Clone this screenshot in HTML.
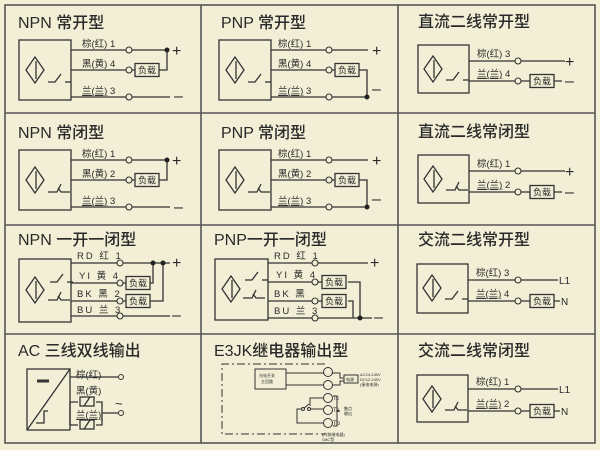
<!DOCTYPE html>
<html><head><meta charset="utf-8"><style>
html,body{margin:0;padding:0;background:#f2efd6;}
svg{display:block}
text{font-family:"Liberation Sans","Noto Sans CJK SC",sans-serif;fill:#2a2a2a}
.t{font-size:16px;font-weight:500}
.l{font-size:9.5px}
.s{font-size:4px}
</style></head><body>
<svg width="600" height="450" viewBox="0 0 600 450" xmlns="http://www.w3.org/2000/svg">
<rect x="0" y="0" width="600" height="450" fill="#f2efd6"/>
<g stroke="#555" stroke-width="1.6" fill="none">
<rect x="5" y="5" width="590" height="438"/>
<line x1="201" y1="5" x2="201" y2="443"/>
<line x1="398" y1="5" x2="398" y2="443"/>
<line x1="5" y1="113" x2="595" y2="113"/>
<line x1="5" y1="225" x2="595" y2="225"/>
<line x1="5" y1="334" x2="595" y2="334"/>
</g>
<defs>
<g id="sym" stroke="#333" stroke-width="1.3" fill="none">
<polygon points="0,-13 9,0 0,13 -9,0"/>
<line x1="1" y1="-9" x2="1" y2="9"/>
</g>
<g id="no" stroke="#333" stroke-width="1.3" fill="none">
<polyline points="0,0 7,0 13,-8"/><line x1="17" y1="0" x2="23" y2="0"/>
</g>
<g id="nc" stroke="#333" stroke-width="1.3" fill="none">
<polyline points="0,0 9,0 13,-8"/><polyline points="10,-4 13,0 22,0"/>
</g>
<g id="load"><rect x="0" y="-6.5" width="24" height="13" fill="none" stroke="#333" stroke-width="1.3"/><text x="3" y="3.5" style="font-size:9px">负载</text></g>
</defs>

<text class="t" x="18" y="28">NPN 常开型</text>
<text class="t" x="221" y="28">PNP 常开型</text>
<text class="t" x="418" y="27">直流二线常开型</text>
<text class="t" x="18" y="138">NPN 常闭型</text>
<text class="t" x="221" y="138">PNP 常闭型</text>
<text class="t" x="418" y="137">直流二线常闭型</text>
<text class="t" x="18" y="245">NPN 一开一闭型</text>
<text class="t" x="214" y="245">PNP一开一闭型</text>
<text class="t" x="418" y="245">交流二线常开型</text>
<text class="t" x="18" y="356">AC 三线双线输出</text>
<text class="t" x="214" y="356">E3JK继电器输出型</text>
<text class="t" x="418" y="356">交流二线常闭型</text>

<g stroke="#333" stroke-width="1.3" fill="none">
<rect x="19" y="40" width="52" height="60"/>
<rect x="219" y="40" width="52" height="60"/>
<rect x="19" y="150" width="52" height="60"/>
<rect x="219" y="150" width="52" height="60"/>
<rect x="418" y="45" width="51" height="48"/>
<rect x="418" y="155" width="51" height="48"/>
<rect x="19" y="259" width="52" height="63"/>
<rect x="215" y="259" width="53" height="61"/>
<rect x="417" y="264" width="51" height="49"/>
<rect x="417" y="375" width="51" height="47"/>
<rect x="27" y="369" width="43" height="61"/>
</g>
<use href="#sym" x="35" y="70"/><use href="#no" x="48" y="82"/>
<use href="#sym" x="235" y="70"/><use href="#no" x="248" y="82"/>
<use href="#sym" x="35" y="180"/><use href="#nc" x="48" y="192"/>
<use href="#sym" x="235" y="180"/><use href="#nc" x="248" y="192"/>
<use href="#sym" x="433" y="69"/><use href="#no" x="446" y="80"/>
<use href="#sym" x="433" y="179"/><use href="#nc" x="446" y="190"/>
<use href="#sym" x="432" y="288"/><use href="#no" x="445" y="299"/>
<use href="#sym" x="432" y="399"/><use href="#nc" x="445" y="410"/>
<use href="#sym" x="35" y="290"/>
<use href="#no" x="50" y="282"/><use href="#nc" x="48" y="300"/>
<use href="#sym" x="231" y="289"/>
<use href="#no" x="245" y="280"/><use href="#nc" x="243" y="298"/>

<g stroke="#333" stroke-width="1.3" fill="none">
<path d="M71 50H126M132 50H167M71 70H126M132 70H135M159 70H167V50M71 97H126M132 97H170"/>
<path d="M71 160H126M132 160H167M71 180H126M132 180H135M159 180H167V160M71 207H126M132 207H170"/>
<path d="M271 50H326M332 50H368M271 70H326M332 70H335M359 70H367V97M271 97H326M332 97H367"/>
<path d="M271 160H326M332 160H368M271 180H326M332 180H335M359 180H367V207M271 207H326M332 207H367"/>
<path d="M469 61H515M521 61H565M469 81H515M521 81H530M554 81H562"/>
<path d="M469 171H515M521 171H565M469 192H515M521 192H530M554 192H562"/>
<path d="M468 280H515M521 280H558M468 301H515M521 301H530M554 301H560"/>
<path d="M468 389H515M521 389H558M468 411H515M521 411H530M554 411H560"/>
<path d="M71 263H117M123 263H170M71 283H117M123 283H126M150 283H153V263M71 301H117M123 301H126M150 301H163V263M71 316H117M123 316H170"/>
<path d="M268 263H312M318 263H368M268 282H312M318 282H322M348 282H360V318M268 301H312M318 301H322M348 301H353V318M268 318H312M318 318H372"/>
<path d="M27 430L70 369M36 423H44V411H48"/>
<path d="M70 377H118M70 402H78M96 402H102V413H118M70 425H78M96 425H102V413M70 402V425"/>
<rect x="80" y="397" width="14" height="9"/><path d="M84 406L90 397"/>
<rect x="80" y="420" width="14" height="9"/><path d="M84 429L90 420"/>
</g>
<path d="M37 381H49" stroke="#333" stroke-width="3"/>
<circle cx="121" cy="377" r="2.5" fill="#f2efd6" stroke="#333"/>
<circle cx="121" cy="413" r="2.5" fill="#f2efd6" stroke="#333"/>
<text x="115" y="408" style="font-size:13px">~</text>
<text class="l" x="76" y="378">棕(红)</text>
<text class="l" x="76" y="394">黑(黄)</text>
<text class="l" x="76" y="418" text-decoration="underline">兰(兰)</text>

<g fill="#f2efd6" stroke="#333" stroke-width="1.1">
<circle cx="129" cy="50" r="3"/><circle cx="129" cy="70" r="3"/><circle cx="129" cy="97" r="3"/>
<circle cx="129" cy="160" r="3"/><circle cx="129" cy="180" r="3"/><circle cx="129" cy="207" r="3"/>
<circle cx="329" cy="50" r="3"/><circle cx="329" cy="70" r="3"/><circle cx="329" cy="97" r="3"/>
<circle cx="329" cy="160" r="3"/><circle cx="329" cy="180" r="3"/><circle cx="329" cy="207" r="3"/>
<circle cx="518" cy="61" r="3"/><circle cx="518" cy="81" r="3"/>
<circle cx="518" cy="171" r="3"/><circle cx="518" cy="192" r="3"/>
<circle cx="518" cy="280" r="3"/><circle cx="518" cy="301" r="3"/>
<circle cx="518" cy="389" r="3"/><circle cx="518" cy="411" r="3"/>
<circle cx="120" cy="263" r="3"/><circle cx="120" cy="283" r="3"/><circle cx="120" cy="301" r="3"/><circle cx="120" cy="316" r="3"/>
<circle cx="315" cy="263" r="3"/><circle cx="315" cy="282" r="3"/><circle cx="315" cy="301" r="3"/><circle cx="315" cy="318" r="3"/>
</g>
<g fill="#222">
<circle cx="167" cy="50" r="2.5"/><circle cx="167" cy="160" r="2.5"/>
<circle cx="367" cy="97" r="2.5"/><circle cx="367" cy="207" r="2.5"/>
<circle cx="153" cy="263" r="2.5"/><circle cx="163" cy="263" r="2.5"/>
<circle cx="360" cy="318" r="2.5"/>
</g>
<use href="#load" x="135" y="70"/><use href="#load" x="135" y="180"/>
<use href="#load" x="335" y="70"/><use href="#load" x="335" y="180"/>
<use href="#load" x="530" y="81"/><use href="#load" x="530" y="192"/>
<use href="#load" x="530" y="301"/><use href="#load" x="530" y="411"/>
<use href="#load" x="126" y="283"/><use href="#load" x="126" y="301"/>
<use href="#load" x="322" y="282"/><use href="#load" x="322" y="301"/>

<g style="font-size:16px">
<text x="172" y="56">+</text><text x="174" y="101">–</text>
<text x="172" y="166">+</text><text x="174" y="212">–</text>
<text x="372" y="56">+</text><text x="372" y="94">–</text>
<text x="372" y="166">+</text><text x="372" y="204">–</text>
<text x="565" y="67">+</text><text x="565" y="86">–</text>
<text x="565" y="177">+</text><text x="565" y="197">–</text>
<text x="172" y="268">+</text><text x="172" y="320">–</text>
<text x="370" y="268">+</text><text x="374" y="322">–</text>
</g>
<g style="font-size:10px">
<text x="559" y="284">L1</text><text x="561" y="305">N</text>
<text x="559" y="393">L1</text><text x="561" y="415">N</text>
</g>

<g class="l">
<text x="82" y="47">棕(红)  1</text><text x="82" y="67">黑(黄)  4</text><text x="82" y="94"><tspan text-decoration="underline">兰(兰)</tspan>  3</text>
<text x="82" y="157">棕(红)  1</text><text x="82" y="177">黑(黄)  2</text><text x="82" y="204"><tspan text-decoration="underline">兰(兰)</tspan>  3</text>
<text x="278" y="47">棕(红)  1</text><text x="278" y="67">黑(黄)  4</text><text x="278" y="94"><tspan text-decoration="underline">兰(兰)</tspan>  3</text>
<text x="278" y="157">棕(红)  1</text><text x="278" y="177">黑(黄)  2</text><text x="278" y="204"><tspan text-decoration="underline">兰(兰)</tspan>  3</text>
<text x="477" y="57">棕(红)  3</text><text x="477" y="77"><tspan text-decoration="underline">兰(兰)</tspan>  4</text>
<text x="477" y="167">棕(红)  1</text><text x="477" y="188"><tspan text-decoration="underline">兰(兰)</tspan>  2</text>
<text x="476" y="276">棕(红)  3</text><text x="476" y="297"><tspan text-decoration="underline">兰(兰)</tspan>  4</text>
<text x="476" y="385">棕(红)  1</text><text x="476" y="407"><tspan text-decoration="underline">兰(兰)</tspan>  2</text>
<text x="77" y="259" letter-spacing="2">RD 红 1</text><text x="79" y="279" letter-spacing="2">YI 黄 4</text>
<text x="77" y="297" letter-spacing="2">BK 黑 2</text><text x="77" y="313" letter-spacing="2">BU 兰 3</text>
<text x="274" y="259" letter-spacing="2">RD 红 1</text><text x="276" y="278" letter-spacing="2">YI 黄 4</text>
<text x="274" y="297" letter-spacing="2">BK 黑</text><text x="274" y="314" letter-spacing="2">BU 兰 3</text>
</g>

<g stroke="#333" stroke-width="1" fill="none">
<path d="M325 364H222V434H325" stroke-dasharray="8,3,2,3"/>
<rect x="255" y="369" width="31" height="20"/>
<path d="M286 373H325M286 385H325M332 373H340V378H344M332 385H340V381H344"/>
<rect x="344" y="375" width="14" height="8"/>
<path d="M325 398H310V406M325 409H311M305 409H297V423H325"/>
<path d="M303 409L309 404"/>
<path d="M333 396H337V426H333M337 411H340"/>
</g>
<g fill="#f2efd6" stroke="#333" stroke-width="1">
<circle cx="328" cy="372" r="4.5"/><circle cx="328" cy="385" r="4.5"/>
<circle cx="328" cy="398" r="4.5"/><circle cx="328" cy="410" r="4.5"/><circle cx="328" cy="423" r="4.5"/>
<circle cx="303" cy="409" r="1.5"/><circle cx="309" cy="409" r="1.5"/>
</g>
<g class="s">
<text x="259" y="377">光电开关</text><text x="261" y="383">主回路</text>
<text x="346" y="381">电源</text>
<text x="360" y="376">AC24-240V</text><text x="360" y="381">DC12-240V</text><text x="360" y="386">(接电电源)</text>
<text x="333" y="400" style="font-size:6px">Tc</text><text x="333" y="412" style="font-size:6px">Ta</text><text x="333" y="425" style="font-size:6px">Tb</text>
<text x="344" y="410">触点</text><text x="344" y="415">输出</text>
<text x="322" y="436">(内装继电器)</text><text x="322" y="441">G8C型</text>
</g>
</svg>
</body></html>
